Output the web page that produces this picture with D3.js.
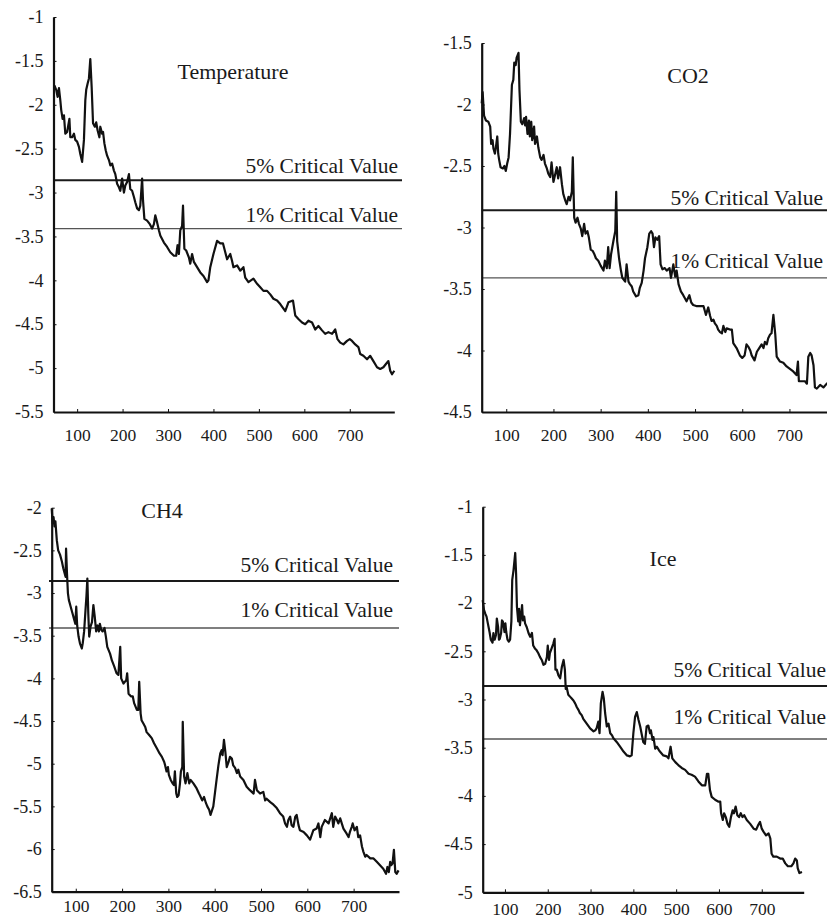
<!DOCTYPE html>
<html>
<head>
<meta charset="utf-8">
<script src="https://cdn.jsdelivr.net/npm/d3@7"></script>
<style>
  body { margin: 0; background: #fff; }
  svg { display: block; }
  text { font-family: "Liberation Serif", "DejaVu Serif", serif; fill: #1a1a1a; }
</style>
</head>
<body>
<div id="chart"></div>
<script>
// values: [x, statistic]
var temperature = [
  [50,-1.78],[54,-1.83],[57,-1.91],[60,-1.81],[63,-1.95],[65,-2.06],[68,-2.16],[71,-2.12],[74,-2.33],[78,-2.31],
  [83,-2.16],[85,-2.37],[89,-2.37],[93,-2.33],[96,-2.40],[100,-2.42],[104,-2.48],[107,-2.56],[111,-2.65],[115,-2.40],
  [118,-1.95],[120,-1.83],[123,-1.76],[126,-1.70],[129,-1.48],[132,-1.80],[135,-2.21],[139,-2.25],[142,-2.20],[145,-2.29],
  [149,-2.37],[151,-2.25],[155,-2.33],[157,-2.31],[160,-2.44],[163,-2.52],[166,-2.58],[170,-2.63],[173,-2.69],[177,-2.67],
  [181,-2.75],[184,-2.79],[188,-2.90],[192,-2.94],[195,-2.98],[199,-2.84],[203,-3.00],[206,-2.92],[210,-2.88],[214,-2.79],
  [217,-2.96],[221,-2.98],[225,-3.05],[228,-3.11],[232,-3.18],[236,-3.20],[239,-3.15],[243,-2.84],[245,-3.09],[248,-3.30],
  [254,-3.32],[260,-3.36],[265,-3.41],[269,-3.36],[272,-3.26],[276,-3.34],[280,-3.43],[283,-3.49],[291,-3.57],[298,-3.62],
  [305,-3.68],[313,-3.72],[318,-3.72],[321,-3.60],[324,-3.70],[327,-3.43],[331,-3.38],[333,-3.15],[336,-3.64],[340,-3.66],
  [346,-3.74],[349,-3.81],[353,-3.70],[357,-3.79],[364,-3.85],[371,-3.91],[378,-3.95],[386,-4.02],[389,-4.00],[393,-3.85],
  [400,-3.70],[408,-3.55],[415,-3.58],[421,-3.58],[426,-3.68],[430,-3.76],[437,-3.70],[441,-3.78],[444,-3.85],[452,-3.83],
  [459,-3.89],[466,-3.85],[470,-3.97],[477,-4.02],[488,-3.98],[496,-4.04],[503,-4.08],[510,-4.12],[518,-4.12],[525,-4.16],
  [532,-4.21],[540,-4.23],[547,-4.27],[558,-4.35],[565,-4.25],[575,-4.23],[580,-4.40],[587,-4.44],[595,-4.48],[602,-4.50],
  [609,-4.46],[617,-4.48],[624,-4.56],[631,-4.52],[639,-4.57],[646,-4.61],[653,-4.59],[661,-4.61],[668,-4.56],[673,-4.67],
  [679,-4.71],[686,-4.73],[694,-4.69],[700,-4.67],[705,-4.69],[712,-4.73],[719,-4.76],[723,-4.84],[730,-4.86],[738,-4.90],
  [745,-4.86],[752,-4.92],[760,-4.99],[767,-5.01],[774,-4.99],[780,-4.95],[785,-4.92],[789,-5.03],[793,-5.07],[798,-5.03]
];

var co2 = [
  [48,-1.99],[50,-1.90],[53,-2.09],[57,-2.13],[62,-2.14],[66,-2.18],[68,-2.32],[71,-2.29],[73,-2.36],[76,-2.40],
  [78,-2.35],[81,-2.26],[83,-2.40],[85,-2.45],[88,-2.51],[93,-2.52],[96,-2.50],[99,-2.54],[102,-2.48],[105,-2.43],
  [108,-2.24],[112,-1.84],[115,-1.80],[117,-1.66],[120,-1.68],[122,-1.62],[124,-1.60],[126,-1.58],[128,-1.88],[131,-2.14],
  [134,-2.16],[138,-2.11],[140,-2.17],[142,-2.10],[145,-2.24],[148,-2.13],[150,-2.26],[153,-2.14],[155,-2.29],[159,-2.18],
  [161,-2.32],[165,-2.26],[168,-2.35],[172,-2.43],[175,-2.45],[179,-2.41],[182,-2.48],[186,-2.52],[189,-2.56],[193,-2.59],
  [196,-2.47],[200,-2.63],[203,-2.58],[207,-2.51],[210,-2.60],[214,-2.51],[218,-2.65],[221,-2.73],[225,-2.78],[228,-2.81],
  [232,-2.75],[235,-2.78],[239,-2.71],[241,-2.43],[244,-2.92],[247,-2.96],[251,-2.92],[254,-2.97],[258,-3.01],[261,-3.07],
  [265,-2.97],[268,-3.05],[272,-3.03],[275,-3.08],[279,-3.18],[283,-3.19],[287,-3.22],[290,-3.25],[295,-3.27],[300,-3.31],
  [306,-3.35],[309,-3.27],[313,-3.33],[316,-3.16],[319,-3.33],[322,-3.22],[327,-3.11],[331,-3.03],[333,-2.71],[335,-3.11],
  [339,-3.25],[343,-3.35],[346,-3.41],[352,-3.44],[355,-3.30],[359,-3.44],[362,-3.46],[366,-3.48],[369,-3.52],[375,-3.56],
  [380,-3.55],[383,-3.49],[387,-3.45],[391,-3.35],[394,-3.25],[399,-3.16],[403,-3.05],[407,-3.03],[410,-3.05],[413,-3.16],
  [416,-3.08],[420,-3.10],[424,-3.07],[427,-3.30],[431,-3.34],[436,-3.33],[440,-3.35],[446,-3.33],[449,-3.41],[454,-3.30],
  [458,-3.40],[461,-3.35],[465,-3.46],[470,-3.52],[475,-3.55],[482,-3.60],[488,-3.55],[492,-3.61],[496,-3.63],[504,-3.64],
  [511,-3.64],[518,-3.64],[523,-3.71],[528,-3.65],[532,-3.72],[535,-3.76],[539,-3.75],[542,-3.78],[546,-3.80],[549,-3.83],
  [553,-3.85],[557,-3.86],[560,-3.80],[564,-3.85],[567,-3.82],[574,-3.83],[578,-3.83],[581,-3.94],[588,-3.98],[595,-4.04],
  [600,-4.06],[605,-4.04],[609,-3.95],[613,-3.97],[617,-4.00],[620,-4.04],[626,-4.08],[631,-4.01],[636,-3.98],[641,-3.95],
  [645,-3.98],[648,-3.93],[652,-3.95],[655,-3.90],[659,-3.87],[662,-3.86],[666,-3.71],[670,-3.87],[673,-4.05],[680,-4.09],
  [687,-4.10],[694,-4.13],[701,-4.15],[708,-4.17],[715,-4.20],[718,-4.09],[720,-4.25],[726,-4.25],[733,-4.25],[737,-4.27],
  [740,-4.05],[744,-4.02],[747,-4.04],[751,-4.12],[754,-4.30],[758,-4.31],[765,-4.28],[772,-4.30],[779,-4.27],[786,-4.25]
];

var ch4 = [
  [48,-2.01],[50,-2.18],[52,-2.11],[54,-2.22],[56,-2.16],[59,-2.38],[62,-2.50],[66,-2.55],[70,-2.63],[73,-2.71],
  [75,-2.75],[78,-2.81],[79,-2.48],[81,-2.77],[83,-3.00],[85,-3.08],[89,-3.16],[93,-3.24],[96,-3.30],[99,-3.36],
  [101,-3.16],[103,-3.38],[106,-3.51],[109,-3.59],[113,-3.65],[115,-3.59],[118,-3.45],[121,-3.20],[123,-3.04],[125,-2.83],
  [127,-3.24],[129,-3.51],[132,-3.39],[135,-3.34],[138,-3.14],[141,-3.28],[144,-3.45],[147,-3.38],[150,-3.45],[152,-3.36],
  [155,-3.43],[158,-3.45],[162,-3.41],[165,-3.51],[168,-3.63],[174,-3.71],[178,-3.79],[183,-3.86],[188,-3.94],[192,-3.96],
  [196,-3.63],[198,-4.00],[203,-4.06],[209,-4.02],[211,-3.94],[214,-4.18],[219,-4.21],[223,-4.21],[226,-4.29],[232,-4.37],
  [235,-4.37],[237,-4.04],[240,-4.41],[242,-4.49],[246,-4.53],[250,-4.57],[253,-4.63],[258,-4.66],[264,-4.70],[269,-4.76],
  [275,-4.82],[281,-4.88],[286,-4.92],[291,-4.98],[293,-5.02],[296,-5.09],[299,-5.04],[301,-5.13],[305,-5.19],[309,-5.23],
  [312,-5.25],[314,-5.09],[317,-5.35],[319,-5.39],[322,-5.37],[325,-5.23],[327,-5.09],[330,-5.04],[331,-4.51],[334,-5.15],
  [337,-5.23],[341,-5.11],[345,-5.23],[348,-5.19],[354,-5.23],[361,-5.29],[366,-5.35],[368,-5.37],[373,-5.43],[377,-5.39],
  [381,-5.46],[384,-5.50],[388,-5.54],[391,-5.60],[397,-5.50],[404,-5.19],[408,-5.02],[412,-4.88],[415,-4.84],[417,-4.90],
  [420,-4.72],[423,-4.86],[426,-5.04],[430,-4.98],[433,-4.92],[437,-4.94],[440,-5.02],[444,-5.05],[448,-5.11],[451,-5.07],
  [455,-5.15],[462,-5.19],[469,-5.27],[476,-5.31],[484,-5.35],[487,-5.19],[491,-5.31],[498,-5.35],[505,-5.33],[509,-5.43],
  [512,-5.41],[520,-5.45],[527,-5.48],[534,-5.52],[541,-5.58],[548,-5.62],[552,-5.70],[556,-5.74],[559,-5.66],[563,-5.62],
  [566,-5.72],[570,-5.74],[574,-5.62],[577,-5.60],[581,-5.72],[584,-5.78],[592,-5.80],[599,-5.84],[606,-5.89],[613,-5.78],
  [620,-5.76],[624,-5.70],[628,-5.86],[631,-5.74],[638,-5.66],[646,-5.70],[653,-5.58],[656,-5.74],[660,-5.62],[664,-5.66],
  [667,-5.70],[671,-5.64],[678,-5.76],[685,-5.82],[689,-5.86],[692,-5.80],[696,-5.74],[698,-5.70],[702,-5.78],[707,-5.74],
  [710,-5.86],[714,-5.84],[718,-5.97],[721,-6.03],[725,-6.09],[728,-6.07],[736,-6.11],[743,-6.11],[750,-6.15],[757,-6.19],
  [764,-6.23],[770,-6.29],[773,-6.21],[776,-6.27],[779,-6.15],[781,-6.19],[784,-6.17],[787,-6.01],[790,-6.27],[793,-6.29],
  [797,-6.25]
];

var ice = [
  [48,-1.97],[51,-2.07],[54,-2.11],[57,-2.14],[60,-2.21],[64,-2.30],[67,-2.38],[71,-2.41],[73,-2.31],[76,-2.38],
  [79,-2.33],[81,-2.16],[84,-2.25],[86,-2.38],[88,-2.37],[91,-2.31],[93,-2.18],[95,-2.19],[99,-2.30],[101,-2.21],
  [103,-2.30],[106,-2.38],[109,-2.40],[112,-2.38],[115,-2.19],[117,-1.76],[120,-1.66],[124,-1.48],[126,-1.69],[128,-2.04],
  [131,-2.19],[133,-2.06],[135,-2.23],[138,-2.11],[140,-2.02],[142,-2.18],[145,-2.14],[147,-2.21],[151,-2.25],[155,-2.31],
  [159,-2.35],[163,-2.31],[166,-2.44],[170,-2.47],[174,-2.49],[178,-2.52],[182,-2.56],[186,-2.59],[190,-2.64],[194,-2.63],
  [198,-2.56],[200,-2.44],[203,-2.59],[205,-2.52],[209,-2.47],[213,-2.42],[216,-2.37],[218,-2.69],[221,-2.69],[225,-2.75],
  [229,-2.78],[233,-2.66],[237,-2.59],[240,-2.69],[242,-2.89],[244,-2.87],[248,-2.95],[252,-2.97],[256,-2.99],[260,-3.01],
  [264,-3.04],[268,-3.08],[272,-3.11],[275,-3.14],[279,-3.16],[283,-3.20],[291,-3.25],[299,-3.30],[307,-3.33],[311,-3.32],
  [314,-3.30],[318,-3.23],[321,-3.35],[324,-3.04],[328,-2.92],[331,-2.99],[334,-3.14],[338,-3.28],[342,-3.25],[346,-3.35],
  [350,-3.37],[353,-3.40],[361,-3.44],[369,-3.49],[377,-3.54],[385,-3.58],[392,-3.59],[396,-3.58],[400,-3.35],[404,-3.18],
  [408,-3.13],[412,-3.21],[416,-3.28],[420,-3.37],[423,-3.44],[427,-3.46],[431,-3.28],[435,-3.27],[439,-3.35],[441,-3.32],
  [445,-3.42],[447,-3.39],[451,-3.51],[455,-3.49],[459,-3.52],[462,-3.54],[470,-3.58],[478,-3.59],[482,-3.61],[487,-3.49],
  [491,-3.61],[498,-3.65],[505,-3.68],[513,-3.71],[521,-3.73],[529,-3.77],[536,-3.78],[544,-3.80],[552,-3.85],[560,-3.89],
  [568,-3.89],[572,-3.77],[575,-3.77],[579,-3.94],[583,-4.01],[591,-4.04],[599,-4.06],[603,-4.06],[605,-4.18],[609,-4.25],
  [612,-4.18],[616,-4.22],[620,-4.29],[624,-4.32],[628,-4.22],[632,-4.15],[635,-4.18],[639,-4.11],[643,-4.20],[647,-4.22],
  [651,-4.18],[655,-4.22],[659,-4.20],[665,-4.25],[673,-4.29],[681,-4.34],[687,-4.35],[692,-4.30],[696,-4.27],[700,-4.34],
  [704,-4.37],[710,-4.41],[716,-4.39],[720,-4.44],[723,-4.60],[727,-4.63],[735,-4.63],[743,-4.65],[749,-4.65],[755,-4.70],
  [761,-4.73],[769,-4.73],[774,-4.70],[778,-4.65],[782,-4.67],[784,-4.75],[788,-4.80],[794,-4.79]
];

var critical5 = -2.86;
var critical1 = -3.41;
var xDomain = [48, 798];
var xTicks = [100, 200, 300, 400, 500, 600, 700];
var tempTicks = [-1, -1.5, -2, -2.5, -3, -3.5, -4, -4.5, -5, -5.5];
var co2Ticks = [-1.5, -2, -2.5, -3, -3.5, -4, -4.5];
var ch4Ticks = [-2, -2.5, -3, -3.5, -4, -4.5, -5, -5.5, -6, -6.5];
var iceTicks = [-1, -1.5, -2, -2.5, -3, -3.5, -4, -4.5, -5];

// where each panel sits on the page
var panels = [
  { name: "Temperature", data: temperature, yTicks: tempTicks, yDomain: [-5.5, -1],
    left: 53.5, right: 394.3, top: 17, bottom: 412, lineL: 53.5, lineR: 402,
    titleX: 233, titleY: 79, labX: 398, lab5Y: 172.5, lab1Y: 221.5, xPad: 17 },
  { name: "CO2", data: co2, yTicks: co2Ticks, yDomain: [-4.5, -1.5],
    left: 481.7, right: 835.7, top: 43, bottom: 412, lineL: 481.7, lineR: 830,
    titleX: 688, titleY: 83, labX: 823, lab5Y: 205, lab1Y: 268, xPad: 17 },
  { name: "CH4", data: ch4, yTicks: ch4Ticks, yDomain: [-6.5, -2],
    left: 51.7, right: 399, top: 507.7, bottom: 891.7, lineL: 49, lineR: 399,
    titleX: 162, titleY: 517.7, labX: 393, lab5Y: 572, lab1Y: 616.5, xPad: 8 },
  { name: "Ice", data: ice, yTicks: iceTicks, yDomain: [-5, -1],
    left: 482.7, right: 803.7, top: 506.7, bottom: 892.3, lineL: 482.7, lineR: 830,
    titleX: 663, titleY: 566, labX: 826, lab5Y: 676.5, lab1Y: 724, xPad: 10 }
];

var svg = d3.select("#chart").append("svg")
    .attr("width", 827)
    .attr("height", 919);

panels.forEach(function (p) {
    var x = d3.scaleLinear().domain(xDomain).range([p.left, p.right]);
    var y = d3.scaleLinear().domain(p.yDomain).range([p.bottom, p.top]);
    var g = svg.append("g");

    g.append("text")
        .attr("x", p.titleX)
        .attr("y", p.titleY)
        .attr("text-anchor", "middle")
        .attr("font-size", 22)
        .text(p.name);

    g.append("text")
        .attr("x", p.labX)
        .attr("y", p.lab5Y)
        .attr("text-anchor", "end")
        .attr("font-size", 21.5)
        .text("5% Critical Value");

    g.append("text")
        .attr("x", p.labX)
        .attr("y", p.lab1Y)
        .attr("text-anchor", "end")
        .attr("font-size", 21.5)
        .text("1% Critical Value");

    g.append("line")
        .attr("x1", p.lineL).attr("x2", p.lineR)
        .attr("y1", y(critical5)).attr("y2", y(critical5))
        .attr("stroke", "#1a1a1a")
        .attr("stroke-width", 2);

    g.append("line")
        .attr("x1", p.lineL).attr("x2", p.lineR)
        .attr("y1", y(critical1)).attr("y2", y(critical1))
        .attr("stroke", "#555")
        .attr("stroke-width", 1.3);

    var line = d3.line()
        .x(function (d) { return x(d[0]); })
        .y(function (d) { return y(d[1]); });

    g.append("path")
        .datum(p.data)
        .attr("d", line)
        .attr("fill", "none")
        .attr("stroke", "#111")
        .attr("stroke-width", 2.2)
        .attr("stroke-linejoin", "round");

    var yAxis = g.append("g")
        .attr("transform", "translate(" + p.left + ",0)")
        .call(d3.axisLeft(y)
            .tickValues(p.yTicks)
            .tickFormat(function (d) { return String(d); })
            .tickSizeInner(-3)
            .tickSizeOuter(0)
            .tickPadding(10));

    var xAxis = g.append("g")
        .attr("transform", "translate(0," + p.bottom + ")")
        .call(d3.axisBottom(x)
            .tickValues(xTicks)
            .tickFormat(function (d) { return String(d); })
            .tickSizeInner(-3)
            .tickSizeOuter(0)
            .tickPadding(p.xPad));

    [yAxis, xAxis].forEach(function (a) {
        a.attr("font-family", null);
        a.select(".domain").attr("stroke", "#111").attr("stroke-width", 2.2);
        a.selectAll(".tick line").attr("stroke", "#111").attr("stroke-width", 1);
        a.selectAll(".tick text").attr("fill", "#222");
    });
    yAxis.selectAll(".tick text").attr("font-size", 18);
    xAxis.selectAll(".tick text").attr("font-size", 17.5);
});
</script>
</body>
</html>
